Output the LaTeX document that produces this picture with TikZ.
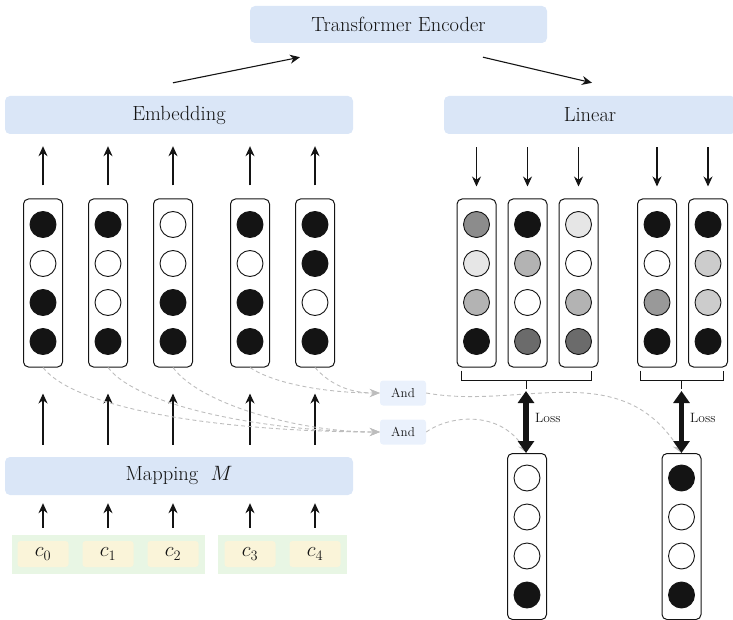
\documentclass[tikz,border=0pt]{standalone}
\usetikzlibrary{arrows.meta,calc}
\definecolor{boxblue}{HTML}{DAE6F7}
\definecolor{andblue}{HTML}{EAF1FC}
\definecolor{cgreen}{HTML}{E8F6E4}
\definecolor{cyellow}{HTML}{FAF4D9}
\definecolor{dk}{HTML}{141414}
\definecolor{dashc}{HTML}{BDBDBD}
\definecolor{gA}{HTML}{8C8C8C}
\definecolor{gB}{HTML}{E6E6E6}
\definecolor{gC}{HTML}{B3B3B3}
\definecolor{gD}{HTML}{6B6B6B}
\definecolor{gE}{HTML}{999999}
\definecolor{gF}{HTML}{CCCCCC}
\tikzset{
  bigbox/.style={fill=boxblue, rounded corners=5pt, inner sep=0pt, text=dk, font=\fontsize{20.5}{24}\selectfont},
  colbox/.style={draw=dk, line width=1pt, rounded corners=5pt, minimum width=39pt, inner sep=0pt},
  dot/.style={circle, draw=dk, line width=0.9pt, minimum size=26pt, inner sep=0pt},
  arr/.style={draw=dk, line width=1.1pt, -{Stealth[length=10pt,width=9pt]}},
  dsh/.style={draw=dashc, dash pattern=on 4pt off 3pt, line width=0.9pt, -{Stealth[length=10pt,width=8pt,fill=dashc]}},
  andbox/.style={fill=andblue, rounded corners=3pt, minimum width=46pt, minimum height=25pt, inner sep=0pt, text=dk, font=\fontsize{13}{15}\selectfont},
  grp/.style={fill=cgreen, minimum height=39pt, inner sep=0pt},
  cbox/.style={fill=cyellow, rounded corners=3pt, minimum width=51pt, minimum height=26pt, inner sep=0pt, text=dk, font=\fontsize{20.5}{24}\selectfont},
  brk/.style={draw=dk, line width=1pt},
  loss/.style={draw=dk, line width=5.5pt, {Triangle[length=12pt,width=16pt]}-{Triangle[length=12pt,width=16pt]}},
  losslbl/.style={text=dk, font=\fontsize{13.5}{16}\selectfont, inner sep=0pt, anchor=west}
}
\newcommand{\vcolumn}[8]{%
  \node[colbox,minimum height=#4] (#1) at (#2,#3) {};
  \node[dot,fill=#5] (#1-1) at ($(#1.center)+(0,-58.5)$) {};
  \node[dot,fill=#6] (#1-2) at ($(#1.center)+(0,-19.5)$) {};
  \node[dot,fill=#7] (#1-3) at ($(#1.center)+(0,19.5)$) {};
  \node[dot,fill=#8] (#1-4) at ($(#1.center)+(0,58.5)$) {};
}
\begin{document}
\begin{tikzpicture}[x=1pt,y=-1pt]
\useasboundingbox (0,0) rectangle (733,620);

% top boxes
\node[bigbox,minimum width=297pt,minimum height=37pt] (enc) at (398.5,24.5) {Transformer Encoder};
\node[bigbox,minimum width=348pt,minimum height=38pt] (emb) at (179,115) {Embedding};
\node[bigbox,minimum width=292pt,minimum height=38pt] (lin) at (590,115) {Linear};
\node[bigbox,minimum width=348pt,minimum height=38pt] (map) at (179,476) {Mapping\ \ $M$};

% arrows between top boxes
\coordinate (a1s) at ($(emb.north)+(-6,-13)$);
\coordinate (a1e) at ($(enc.south)+(-98.5,14)$);
\coordinate (a2s) at ($(enc.south)+(84.5,14)$);
\coordinate (a2e) at ($(lin.north)+(2,-13)$);
\draw[arr] (a1s) -- (a1e);
\draw[arr] (a2s) -- (a2e);

% input groups
\node[grp,minimum width=193pt] (g1) at (108.5,554.5) {};
\node[grp,minimum width=129pt] (g2) at (282.5,554.5) {};
\node[cbox] (c0) at (43,554) {$c_0$};
\node[cbox] (c1) at (108,554) {$c_1$};
\node[cbox] (c2) at (173,554) {$c_2$};
\node[cbox] (c3) at (250,554) {$c_3$};
\node[cbox] (c4) at (315,554) {$c_4$};

% embedding columns
\vcolumn{e1}{43}{283}{168pt}{dk}{white}{dk}{dk}
\vcolumn{e2}{108}{283}{168pt}{dk}{white}{white}{dk}
\vcolumn{e3}{173}{283}{168pt}{white}{white}{dk}{dk}
\vcolumn{e4}{250}{283}{168pt}{dk}{white}{dk}{dk}
\vcolumn{e5}{315}{283}{168pt}{dk}{dk}{white}{dk}

% output columns
\vcolumn{o1}{476.5}{283}{168pt}{gA}{gB}{gC}{dk}
\vcolumn{o2}{527.5}{283}{168pt}{dk}{gC}{white}{gD}
\vcolumn{o3}{578.5}{283}{168pt}{gB}{white}{gC}{gD}
\vcolumn{o4}{657}{283}{168pt}{dk}{white}{gE}{dk}
\vcolumn{o5}{708}{283}{168pt}{dk}{gF}{gF}{dk}

% target columns
\vcolumn{t1}{527}{536.5}{166pt}{white}{white}{white}{dk}
\vcolumn{t2}{681.5}{536.5}{166pt}{dk}{white}{white}{dk}

% And boxes
\node[andbox] (and1) at (403,393) {And};
\node[andbox] (and2) at (403,432) {And};

% vertical arrows
\foreach \n/\c in {e1/c0,e2/c1,e3/c2,e4/c3,e5/c4}{
  \draw[arr,shorten <=13pt,shorten >=12pt] (\n.north) -- (\n.north |- emb.south);
  \draw[arr,shorten <=12pt,shorten >=26pt] (\n.south |- map.north) -- (\n.south);
  \draw[arr,shorten <=13pt,shorten >=8pt] (\c.north) -- (\c.north |- map.south);
}
\foreach \n in {o1,o2,o3,o4,o5}{
  \draw[arr,shorten <=13pt,shorten >=12pt] (\n.north |- lin.south) -- (\n.north);
}

% dashed connectors
\draw[dsh] (e1.south) .. controls +(37,47) and +(-130,0) .. (and2.west);
\draw[dsh] (e2.south) .. controls +(32,42) and +(-100,0) .. (and2.west);
\draw[dsh] (e3.south) .. controls +(27,37) and +(-80,0) .. (and2.west);
\draw[dsh] (e4.south) .. controls +(25,17) and +(-50,0) .. (and1.west);
\draw[dsh] (e5.south) .. controls +(15,17) and +(-30,0) .. (and1.west);
\draw[dsh] (and1.east) .. controls +(94,17) and +(-61,-97) .. (t2.north);
\draw[dsh] (and2.east) .. controls +(24,-17) and +(-27,-43) .. (t1.north);

% brackets
\coordinate (b1l) at ($(o1.south west)+(5,3)$);
\coordinate (b1r) at ($(o3.south east)+(-7,3)$);
\coordinate (b2l) at ($(o4.south west)+(3,3)$);
\coordinate (b2r) at ($(o5.south east)+(-5,3)$);
\draw[brk] (b1l) -- ++(0,10) -| (b1r);
\draw[brk] (b2l) -- ++(0,10) -| (b2r);
\coordinate (m1) at (526,380);
\coordinate (m2) at (681.5,380);
\draw[brk] (m1) -- ++(0,9);
\draw[brk] (m2) -- ++(0,9);

% loss arrows
\coordinate (l1s) at ($(m1)+(0,11)$);
\coordinate (l2s) at ($(m2)+(0,11)$);
\draw[loss] (l1s) -- (l1s |- t1.north);
\draw[loss] (l2s) -- (l2s |- t2.north);
\node[losslbl] (loss1) at (535,418) {Loss};
\node[losslbl] (loss2) at (690,418) {Loss};
\end{tikzpicture}
\end{document}
